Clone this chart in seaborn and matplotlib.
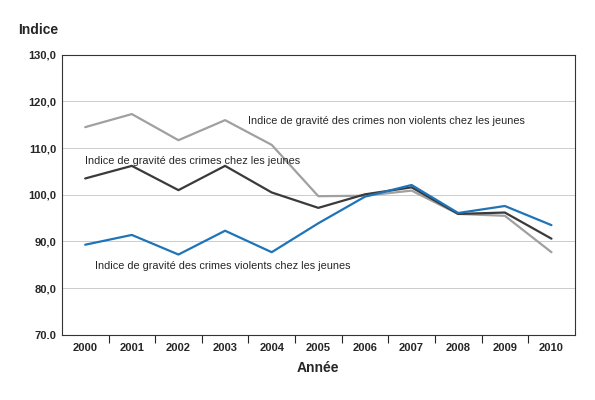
import numpy as np
import pandas as pd
import matplotlib.pyplot as plt
import seaborn as sns
from matplotlib.ticker import FixedLocator

years = [2000, 2001, 2002, 2003, 2004, 2005, 2006, 2007, 2008, 2009, 2010]
non_violent = [114.5, 117.3, 111.7, 116.0, 110.7, 99.7, 99.8, 100.9, 95.9, 95.5, 87.7]
total = [103.5, 106.2, 101.0, 106.2, 100.5, 97.2, 100.1, 101.6, 95.9, 96.2, 90.6]
violent = [89.3, 91.4, 87.2, 92.3, 87.7, 93.9, 99.6, 102.1, 96.1, 97.6, 93.5]
y_ticks = [70, 80, 90, 100, 110, 120, 130]
y_labels = ["70.0", "80,0", "90,0", "100,0", "110,0", "120,0", "130,0"]

df = pd.DataFrame({"year": years, "nv": non_violent, "tot": total, "v": violent})

sns.set_style("white")
plt.rcParams['font.family'] = ['Liberation Sans', 'DejaVu Sans']

fig = plt.figure(figsize=(5.95, 4.0), dpi=100)
ax = fig.add_axes([0.104, 0.163, 0.862, 0.7])

sns.lineplot(data=df, x="year", y="nv", color="#a0a0a0", linewidth=1.6, ax=ax)
sns.lineplot(data=df, x="year", y="tot", color="#3a3a3a", linewidth=1.6, ax=ax)
sns.lineplot(data=df, x="year", y="v", color="#1f74b8", linewidth=1.6, ax=ax)

ax.set_xlim(years[0] - 0.5, years[-1] + 0.5)
ax.set_ylim(70, 130)
ax.set_yticks(y_ticks)
ax.set_yticklabels(y_labels, fontsize=8, fontweight="bold")
ax.set_xticks(years)
ax.set_xticklabels([str(y) for y in years], fontsize=8, fontweight="bold")
ax.tick_params(axis="x", length=0, pad=6)
ax.tick_params(axis="y", length=0, pad=4)
ax.xaxis.set_minor_locator(FixedLocator([y + 0.5 for y in years[:-1]]))
ax.tick_params(axis="x", which="minor", length=6, bottom=True, width=0.8)
ax.yaxis.grid(True, color="#cccccc", linewidth=0.7)
for s in ax.spines.values():
    s.set_color("#333333")
    s.set_linewidth(0.8)

ax.set_xlabel("Année", fontsize=10, fontweight="bold", labelpad=6)
ax.set_ylabel("")
fig.text(0.03, 0.915, "Indice", fontsize=10, fontweight="bold")

ax.text(2003.5, 115.2, "Indice de gravité des crimes non violents chez les jeunes", fontsize=7.8)
ax.text(2000.0, 106.5, "Indice de gravité des crimes chez les jeunes", fontsize=7.8)
ax.text(2000.2, 84.2, "Indice de gravité des crimes violents chez les jeunes", fontsize=7.8)

fig.savefig("out.png", dpi=100)
